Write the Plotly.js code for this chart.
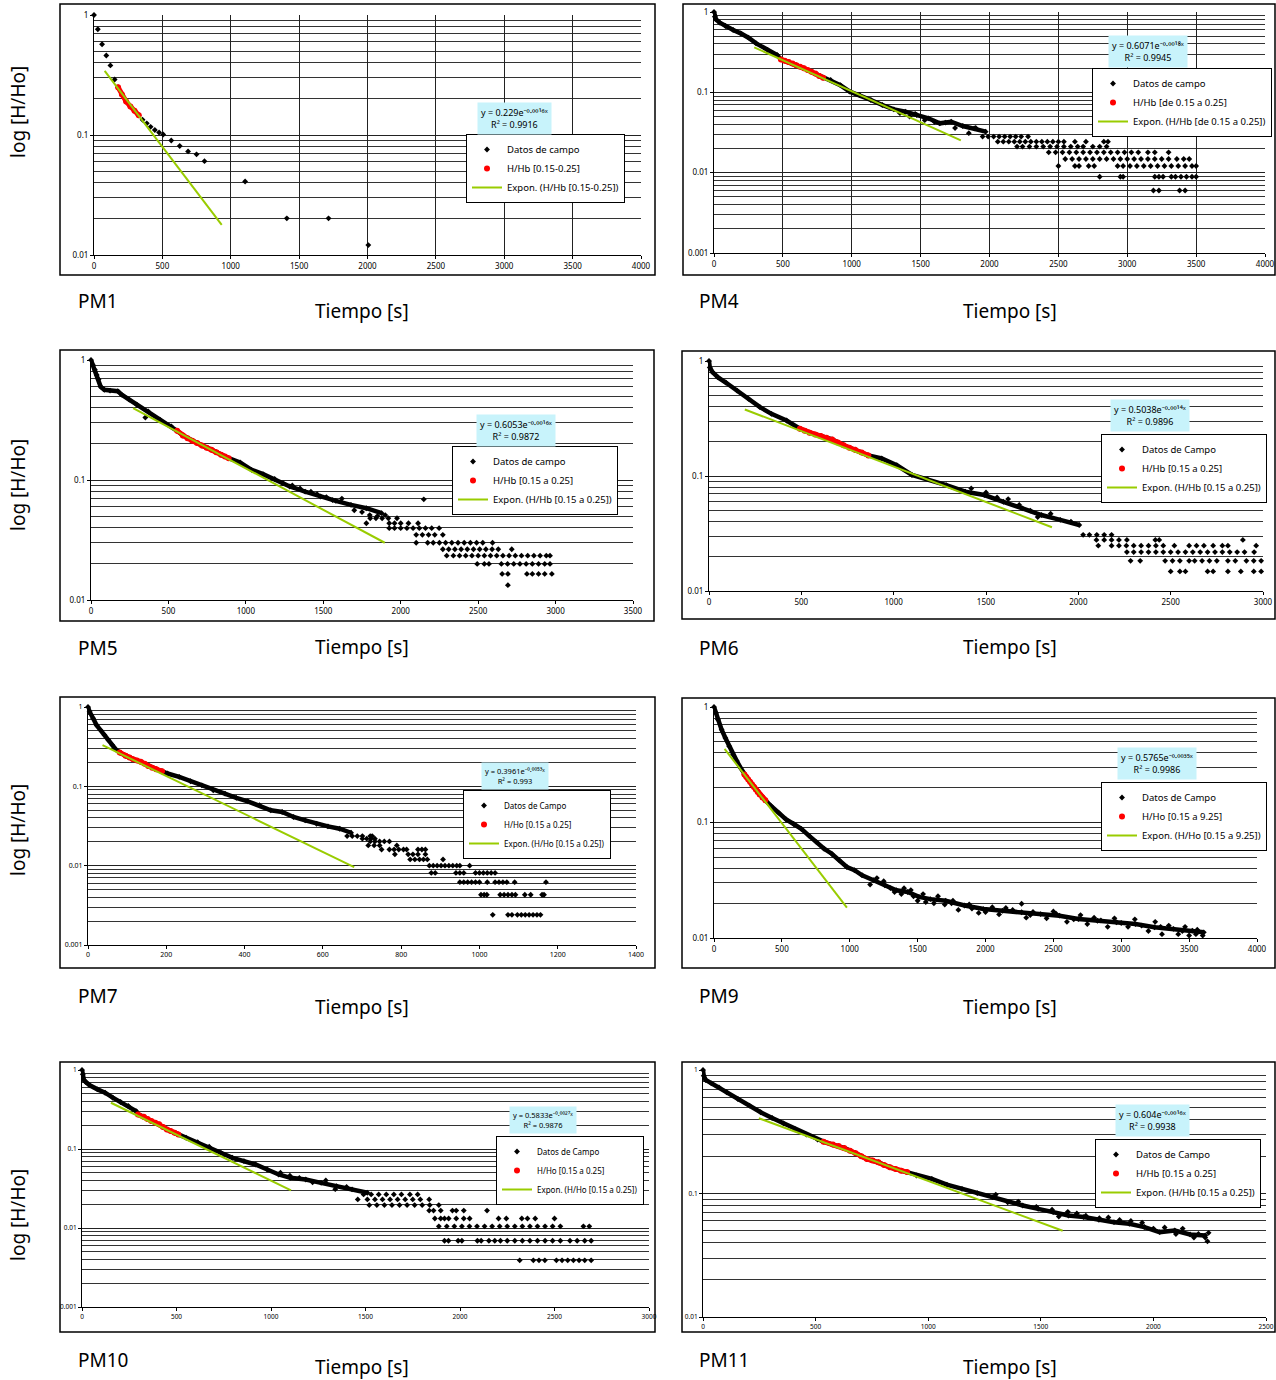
<!DOCTYPE html>
<html><head><meta charset="utf-8">
<script src="https://cdn.plot.ly/plotly-3.0.1.min.js"></script>
<style>body{margin:0;background:#fff}#chart{width:1276px;height:1380px}</style>
</head><body><div id="chart"></div>
<script>
// ---------------- DATA ----------------
// PM1
const pm1_t = [0, 28, 59, 90, 120, 151, 176, 204, 235, 266, 296, 327, 355, 386, 414, 445, 476, 506, 565, 627, 688, 750, 808, 1105, 1410, 1715, 2006];
const pm1_h = [1, 0.76, 0.57, 0.46, 0.38, 0.29, 0.25, 0.217, 0.19, 0.173, 0.159, 0.146, 0.134, 0.125, 0.117, 0.110, 0.105, 0.101, 0.090, 0.081, 0.073, 0.069, 0.0605, 0.041, 0.0202, 0.0202, 0.0121];
const pm1_tailT = [];
const pm1_tailH = [];
const pm1_redT = [176, 204, 235, 266, 296, 327];
const pm1_redH = [0.25, 0.217, 0.19, 0.173, 0.159, 0.146];
const pm1_fitT = [78, 934];
const pm1_fitH = [0.342, 0.0178];

// PM4
const pm4_t = [0, 6, 14, 42, 83, 139, 194, 250, 306, 389, 458, 486, 542, 597, 653, 708, 764, 792, 847, 917, 986, 1056, 1139, 1222, 1306, 1389, 1472, 1556, 1639, 1722, 1806, 1889, 1972];
const pm4_h = [1, 0.875, 0.81, 0.737, 0.67, 0.597, 0.542, 0.479, 0.407, 0.336, 0.292, 0.257, 0.239, 0.217, 0.199, 0.181, 0.16, 0.152, 0.1425, 0.123, 0.102, 0.0926, 0.0803, 0.0695, 0.0614, 0.0574, 0.0522, 0.0475, 0.0411, 0.0431, 0.0381, 0.0356, 0.0324];
const pm4_tailT = [1350, 1420, 1460, 1530, 1600, 1680, 1750, 1850, 1900,
  1950, 1990, 2030, 2070, 2110, 2150, 2190, 2230, 2280,
  2060, 2100, 2140, 2180, 2220, 2260, 2300, 2340, 2380, 2420, 2460, 2500, 2540, 2620, 2700, 2830, 2860,
  2200, 2240, 2290, 2340, 2390, 2440, 2490, 2540, 2590, 2640, 2680, 2750, 2800, 2850,
  2430, 2480, 2530, 2580, 2630, 2680, 2730, 2780, 2830, 2880, 2930, 2980, 3030, 3080, 3150, 3200, 3300,
  2550, 2600, 2650, 2700, 2750, 2800, 2850, 2900, 2950, 3000, 3050, 3100, 3150, 3200, 3250, 3300, 3360, 3410, 3450,
  2500, 2620, 2650, 2720, 2760, 2930, 2970, 3020, 3070, 3120, 3170, 3220, 3270, 3320, 3370, 3420, 3470, 3500,
  2800, 2950, 2970, 3200, 3230, 3260, 3320, 3350, 3390, 3430, 3470, 3500,
  3190, 3230, 3380, 3420];
const pm4_tailH = [0.055, 0.05, 0.054, 0.045, 0.043, 0.042, 0.036, 0.031, 0.036,
  0.0281, 0.0281, 0.0281, 0.0281, 0.0281, 0.0281, 0.0281, 0.0281, 0.0281,
  0.0243, 0.0243, 0.0243, 0.0243, 0.0243, 0.0243, 0.0243, 0.0243, 0.0243, 0.0243, 0.0243, 0.0243, 0.0243, 0.0243, 0.0243, 0.0243, 0.0243,
  0.0211, 0.0211, 0.0211, 0.0211, 0.0211, 0.0211, 0.0211, 0.0211, 0.0211, 0.0211, 0.0211, 0.0211, 0.0211, 0.0211,
  0.0179, 0.0179, 0.0179, 0.0179, 0.0179, 0.0179, 0.0179, 0.0179, 0.0179, 0.0179, 0.0179, 0.0179, 0.0179, 0.0179, 0.0179, 0.0179, 0.0179,
  0.0148, 0.0148, 0.0148, 0.0148, 0.0148, 0.0148, 0.0148, 0.0148, 0.0148, 0.0148, 0.0148, 0.0148, 0.0148, 0.0148, 0.0148, 0.0148, 0.0148, 0.0148, 0.0148,
  0.0121, 0.0121, 0.0121, 0.0121, 0.0121, 0.0121, 0.0121, 0.0121, 0.0121, 0.0121, 0.0121, 0.0121, 0.0121, 0.0121, 0.0121, 0.0121, 0.0121, 0.0121,
  0.0089, 0.0089, 0.0089, 0.0089, 0.0089, 0.0089, 0.0089, 0.0089, 0.0089, 0.0089, 0.0089, 0.0089,
  0.0060, 0.0060, 0.0060, 0.0060];
const pm4_redT = [486, 514, 542, 570, 597, 625, 653, 680, 708, 736, 764, 792];
const pm4_redH = [0.257, 0.248, 0.239, 0.228, 0.217, 0.208, 0.199, 0.19, 0.181, 0.171, 0.16, 0.152];
const pm4_fitT = [292, 1792];
const pm4_fitH = [0.363, 0.0252];

// PM5
const pm5_t = [0, 12, 25, 37, 49, 62, 86, 123, 173, 198, 247, 296, 370, 445, 519, 556, 593, 654, 716, 778, 840, 889, 963, 1037, 1111, 1186, 1284, 1383, 1482, 1581, 1679, 1778, 1877];
const pm5_h = [1, 0.91, 0.83, 0.75, 0.69, 0.60, 0.565, 0.555, 0.55, 0.514, 0.467, 0.424, 0.373, 0.318, 0.28, 0.257, 0.235, 0.212, 0.194, 0.179, 0.162, 0.152, 0.14, 0.1216, 0.112, 0.102, 0.0883, 0.080, 0.0728, 0.067, 0.062, 0.0582, 0.0529];
const pm5_tailT = [351, 1240, 1300, 1350, 1420, 1460, 1520, 1560, 1620, 1700, 1750, 1800, 1850, 1900, 2149,
  1803, 1840, 1880, 1920, 1976,
  1778, 1926, 1960, 2000, 2050, 2112,
  1926, 1960, 2000, 2040, 2080, 2120, 2160, 2200, 2248,
  2100, 2140, 2180, 2220, 2272,
  2100, 2174, 2210, 2250, 2290, 2330, 2370, 2410, 2450, 2490, 2530, 2593,
  2272, 2310, 2350, 2390, 2430, 2470, 2510, 2550, 2590, 2630, 2717,
  2297, 2340, 2380, 2420, 2460, 2500, 2540, 2580, 2620, 2660, 2700, 2740, 2780, 2820, 2860, 2900, 2940, 2964,
  2494, 2540, 2570, 2650, 2690, 2730, 2770, 2810, 2850, 2890, 2930, 2964,
  2655, 2692, 2815, 2850, 2890, 2930, 2976,
  2692];
const pm5_tailH = [0.332, 0.094, 0.09, 0.085, 0.08, 0.076, 0.072, 0.068, 0.07, 0.056, 0.054, 0.051, 0.05, 0.051, 0.069,
  0.048, 0.048, 0.048, 0.048, 0.048,
  0.0436, 0.0436, 0.0436, 0.0436, 0.0436, 0.0436,
  0.0397, 0.0397, 0.0397, 0.0397, 0.0397, 0.0397, 0.0397, 0.0397, 0.0397,
  0.0349, 0.0349, 0.0349, 0.0349, 0.0349,
  0.030, 0.030, 0.030, 0.030, 0.030, 0.030, 0.030, 0.030, 0.030, 0.030, 0.030, 0.030,
  0.0265, 0.0265, 0.0265, 0.0265, 0.0265, 0.0265, 0.0265, 0.0265, 0.0265, 0.0265, 0.0265,
  0.0234, 0.0234, 0.0234, 0.0234, 0.0234, 0.0234, 0.0234, 0.0234, 0.0234, 0.0234, 0.0234, 0.0234, 0.0234, 0.0234, 0.0234, 0.0234, 0.0234, 0.0234,
  0.020, 0.020, 0.020, 0.020, 0.020, 0.020, 0.020, 0.020, 0.020, 0.020, 0.020, 0.020,
  0.0165, 0.0165, 0.0165, 0.0165, 0.0165, 0.0165, 0.0165,
  0.0133];
const pm5_redT = [556, 593, 623, 654, 685, 716, 747, 778, 809, 840, 865, 889];
const pm5_redH = [0.257, 0.235, 0.223, 0.212, 0.203, 0.194, 0.186, 0.179, 0.17, 0.162, 0.157, 0.152];
const pm5_fitT = [272, 1897];
const pm5_fitH = [0.398, 0.030];

// PM6
const pm6_t = [0, 4, 19, 49, 91, 152, 214, 276, 338, 420, 492, 544, 605, 667, 729, 791, 863, 935, 1017, 1099, 1182, 1285, 1388, 1491, 1594, 1697, 1800, 1902, 2005];
const pm6_h = [1, 0.88, 0.80, 0.72, 0.65, 0.553, 0.469, 0.397, 0.347, 0.304, 0.258, 0.238, 0.223, 0.208, 0.185, 0.169, 0.151, 0.142, 0.124, 0.102, 0.094, 0.0834, 0.073, 0.0683, 0.0597, 0.0523, 0.0458, 0.0415, 0.0375];
const pm6_tailT = [1420, 1500, 1560, 1620, 1680, 1740, 1780, 1850, 1960,
  2026, 2060, 2100, 2140, 2180,
  2098, 2140, 2180, 2220, 2263, 2417, 2438, 2891,
  2108, 2180, 2220, 2260, 2300, 2340, 2380, 2420, 2460, 2520, 2600, 2640, 2680, 2730, 2780, 2810, 2963,
  2263, 2300, 2340, 2380, 2420, 2460, 2500, 2540, 2580, 2620, 2660, 2700, 2740, 2780, 2820, 2860, 2900, 2952,
  2283, 2335, 2470, 2510, 2550, 2600, 2630, 2670, 2710, 2750, 2810, 2850, 2910, 2950, 2990,
  2500, 2550, 2580, 2700, 2730, 2810, 2880, 2950, 2990];
const pm6_tailH = [0.078, 0.072, 0.065, 0.063, 0.056, 0.05, 0.044, 0.047, 0.04,
  0.0308, 0.0308, 0.0308, 0.0308, 0.0308,
  0.0278, 0.0278, 0.0278, 0.0278, 0.0278, 0.0278, 0.0278, 0.0278,
  0.0248, 0.0248, 0.0248, 0.0248, 0.0248, 0.0248, 0.0248, 0.0248, 0.0248, 0.0248, 0.0248, 0.0248, 0.0248, 0.0248, 0.0248, 0.0248, 0.0248,
  0.0218, 0.0218, 0.0218, 0.0218, 0.0218, 0.0218, 0.0218, 0.0218, 0.0218, 0.0218, 0.0218, 0.0218, 0.0218, 0.0218, 0.0218, 0.0218, 0.0218, 0.0218,
  0.0183, 0.0183, 0.0183, 0.0183, 0.0183, 0.0183, 0.0183, 0.0183, 0.0183, 0.0183, 0.0183, 0.0183, 0.0183, 0.0183, 0.0183,
  0.0148, 0.0148, 0.0148, 0.0148, 0.0148, 0.0148, 0.0148, 0.0148, 0.0148];
const pm6_redT = [492, 518, 544, 575, 605, 636, 667, 698, 729, 760, 791, 827, 863];
const pm6_redH = [0.258, 0.247, 0.238, 0.23, 0.223, 0.215, 0.208, 0.196, 0.185, 0.176, 0.169, 0.16, 0.151];
const pm6_fitT = [194, 1857];
const pm6_fitH = [0.379, 0.0358];

// PM7
const pm7_t = [0, 4, 13, 22, 32, 42, 52, 62, 71, 81, 96, 115, 135, 154, 174, 189, 203, 233, 262, 291, 320, 350, 379, 408, 438, 467, 496, 525, 555, 584, 613, 643, 672];
const pm7_h = [1, 0.873, 0.72, 0.59, 0.512, 0.443, 0.383, 0.331, 0.292, 0.267, 0.2425, 0.22, 0.204, 0.181, 0.164, 0.155, 0.145, 0.1315, 0.116, 0.103, 0.0893, 0.081, 0.0715, 0.0648, 0.0577, 0.0499, 0.0475, 0.0411, 0.0373, 0.0338, 0.0313, 0.0292, 0.026];
const pm7_tailT = [662, 675, 688, 701, 721, 726,
  701, 712, 723, 733,
  721, 733, 745, 757, 770,
  716, 731, 745, 789,
  750, 770, 782, 794, 806, 814, 843, 853, 862,
  784, 818, 830, 843, 862,
  823, 835, 847, 857, 867, 907,
  872, 882, 892, 902, 912, 922, 932, 942, 950, 975,
  877, 887, 940, 950, 960, 990, 1000, 1010, 1020, 1030, 1040,
  950, 960, 970, 980, 990, 1000, 1020, 1040, 1050, 1060, 1070, 1090, 1170,
  1004, 1012, 1019, 1053, 1063, 1073, 1083, 1092, 1116, 1131, 1160, 1165,
  1034, 1073, 1083, 1097, 1107, 1117, 1127, 1137, 1147, 1156];
const pm7_tailH = [0.0236, 0.0236, 0.0236, 0.0236, 0.0236, 0.0236,
  0.0219, 0.0219, 0.0219, 0.0219,
  0.0202, 0.0202, 0.0202, 0.0202, 0.0202,
  0.018, 0.018, 0.018, 0.018,
  0.016, 0.016, 0.016, 0.016, 0.016, 0.016, 0.016, 0.016, 0.016,
  0.0139, 0.0139, 0.0139, 0.0139, 0.0139,
  0.012, 0.012, 0.012, 0.012, 0.012, 0.012,
  0.010, 0.010, 0.010, 0.010, 0.010, 0.010, 0.010, 0.010, 0.010, 0.010,
  0.0081, 0.0081, 0.0081, 0.0081, 0.0081, 0.0081, 0.0081, 0.0081, 0.0081, 0.0081, 0.0081,
  0.0062, 0.0062, 0.0062, 0.0062, 0.0062, 0.0062, 0.0062, 0.0062, 0.0062, 0.0062, 0.0062, 0.0062, 0.0062,
  0.0043, 0.0043, 0.0043, 0.0043, 0.0043, 0.0043, 0.0043, 0.0043, 0.0043, 0.0043, 0.0043, 0.0043,
  0.0024, 0.0024, 0.0024, 0.0024, 0.0024, 0.0024, 0.0024, 0.0024, 0.0024, 0.0024];
const pm7_redT = [81, 96, 106, 115, 125, 135, 145, 154, 164, 174, 189];
const pm7_redH = [0.267, 0.2425, 0.231, 0.22, 0.212, 0.204, 0.192, 0.181, 0.172, 0.164, 0.155];
const pm7_fitT = [37, 680];
const pm7_fitH = [0.331, 0.0096];

// PM9
const pm9_t = [0, 14, 28, 56, 84, 112, 140, 168, 196, 224, 252, 280, 308, 336, 378, 420, 476, 531, 587, 643, 699, 755, 811, 867, 923, 979, 1035, 1091, 1175, 1259, 1343, 1427, 1510, 1594, 1706, 1846, 1986, 2126, 2266, 2406, 2545, 2685, 2825, 2965, 3105, 3245, 3385, 3524, 3608];
const pm9_h = [1, 0.887, 0.778, 0.637, 0.54, 0.457, 0.388, 0.34, 0.297, 0.26, 0.236, 0.213, 0.193, 0.175, 0.156, 0.139, 0.1216, 0.1065, 0.097, 0.088, 0.077, 0.0677, 0.0593, 0.0537, 0.047, 0.0412, 0.0386, 0.0349, 0.0316, 0.0286, 0.0259, 0.025, 0.0227, 0.0217, 0.021, 0.0191, 0.0178, 0.0172, 0.0167, 0.0161, 0.0156, 0.0146, 0.0141, 0.0137, 0.0132, 0.0124, 0.012, 0.0116, 0.0112];
const pm9_tailT = [1150, 1200, 1300, 1380, 1450, 1500, 1560, 1650, 1700, 1750, 1800, 1900, 1950, 2050, 2100, 2200, 2266, 2300, 2350, 2450, 2500, 2600, 2700, 2750, 2800, 2900, 2950, 3050, 3100, 3200, 3250, 3300, 3350, 3420, 3470, 3500, 3560, 3600,
  1250, 1330, 1400, 1470, 1540, 1620, 1760, 1880, 2000, 2150, 2330, 2520, 2650, 2850, 3000, 3150, 3290, 3450, 3550];
const pm9_tailH = [0.029, 0.033, 0.027, 0.024, 0.026, 0.021, 0.0205, 0.023, 0.0195, 0.02, 0.0175, 0.018, 0.0165, 0.0185, 0.016, 0.0175, 0.0198, 0.015, 0.0168, 0.0148, 0.017, 0.0138, 0.0158, 0.0132, 0.015, 0.0125, 0.0148, 0.0125, 0.0145, 0.0115, 0.0138, 0.0108, 0.0128, 0.0108, 0.0125, 0.0105, 0.0118, 0.0105,
  0.031, 0.025, 0.027, 0.023, 0.024, 0.02, 0.021, 0.0195, 0.0168, 0.0182, 0.0158, 0.0162, 0.0145, 0.0142, 0.0135, 0.0128, 0.0125, 0.0115, 0.0108];
const pm9_redT = [224, 238, 252, 266, 280, 294, 308, 322, 336, 357, 378];
const pm9_redH = [0.26, 0.248, 0.236, 0.224, 0.213, 0.203, 0.193, 0.184, 0.175, 0.165, 0.156];
const pm9_fitT = [78, 979];
const pm9_fitH = [0.434, 0.0183];

// PM10
const pm10_t = [0, 4, 10, 20, 41, 82, 122, 163, 204, 245, 286, 296, 327, 367, 408, 449, 490, 510, 551, 612, 673, 735, 796, 857, 918, 980, 1041, 1102, 1184, 1265, 1347, 1429, 1510];
const pm10_h = [1, 0.881, 0.747, 0.705, 0.64, 0.569, 0.516, 0.446, 0.393, 0.35, 0.302, 0.274, 0.256, 0.226, 0.205, 0.177, 0.161, 0.153, 0.139, 0.122, 0.1067, 0.0895, 0.0774, 0.0703, 0.0637, 0.0551, 0.0476, 0.0432, 0.0411, 0.0373, 0.0339, 0.0308, 0.0279];
const pm10_tailT = [1050, 1100, 1150, 1220, 1290, 1340, 1400,
  1490, 1530, 1570, 1610, 1650, 1690, 1735, 1776,
  1459, 1510, 1550, 1590, 1630, 1670, 1710, 1750, 1790, 1837,
  1520, 1560, 1600, 1640, 1680, 1720, 1760, 1800, 1840, 1888,
  1837, 1860, 1898, 1960, 1980, 2020, 2143,
  1867, 1898, 1918, 1940, 1980, 2020, 2051, 2204, 2245, 2327, 2357, 2398, 2500,
  1888, 1930, 1970, 2010, 2050, 2090, 2130, 2170, 2210, 2250, 2290, 2330, 2370, 2410, 2450, 2490, 2531, 2653, 2684,
  1918, 1939, 1990, 2010, 2092, 2112, 2153, 2184, 2214, 2250, 2290, 2330, 2370, 2410, 2450, 2490, 2531, 2582, 2620, 2660, 2694,
  2316, 2388, 2418, 2449, 2510, 2540, 2570, 2600, 2630, 2660, 2694];
const pm10_tailH = [0.05, 0.046, 0.043, 0.038, 0.04, 0.031, 0.033,
  0.0266, 0.0266, 0.0266, 0.0266, 0.0266, 0.0266, 0.0266, 0.0266,
  0.023, 0.023, 0.023, 0.023, 0.023, 0.023, 0.023, 0.023, 0.023, 0.023,
  0.0195, 0.0195, 0.0195, 0.0195, 0.0195, 0.0195, 0.0195, 0.0195, 0.0195, 0.0195,
  0.0166, 0.0166, 0.0166, 0.0166, 0.0166, 0.0166, 0.0166,
  0.0132, 0.0132, 0.0132, 0.0132, 0.0132, 0.0132, 0.0132, 0.0132, 0.0132, 0.0132, 0.0132, 0.0132, 0.0132,
  0.0105, 0.0105, 0.0105, 0.0105, 0.0105, 0.0105, 0.0105, 0.0105, 0.0105, 0.0105, 0.0105, 0.0105, 0.0105, 0.0105, 0.0105, 0.0105, 0.0105, 0.0105, 0.0105,
  0.0069, 0.0069, 0.0069, 0.0069, 0.0069, 0.0069, 0.0069, 0.0069, 0.0069, 0.0069, 0.0069, 0.0069, 0.0069, 0.0069, 0.0069, 0.0069, 0.0069, 0.0069, 0.0069, 0.0069, 0.0069,
  0.0039, 0.0039, 0.0039, 0.0039, 0.0039, 0.0039, 0.0039, 0.0039, 0.0039, 0.0039, 0.0039];
const pm10_redT = [296, 327, 347, 367, 388, 408, 429, 449, 469, 490, 510];
const pm10_redH = [0.274, 0.256, 0.24, 0.226, 0.215, 0.205, 0.19, 0.177, 0.169, 0.161, 0.153];
const pm10_fitT = [153, 1106];
const pm10_fitH = [0.385, 0.0299];

// PM11
const pm11_t = [0, 3, 12, 37, 71, 105, 155, 206, 256, 307, 357, 408, 459, 509, 535, 577, 627, 678, 728, 779, 830, 880, 906, 948, 1016, 1083, 1150, 1218, 1285, 1353, 1420, 1488, 1555, 1623, 1690, 1758, 1825, 1893, 1960, 2028, 2095, 2163, 2230];
const pm11_h = [1, 0.90, 0.83, 0.78, 0.724, 0.66, 0.582, 0.515, 0.455, 0.409, 0.37, 0.333, 0.30, 0.273, 0.263, 0.249, 0.234, 0.212, 0.19, 0.179, 0.163, 0.153, 0.149, 0.14, 0.1315, 0.118, 0.109, 0.1007, 0.0934, 0.085, 0.080, 0.0751, 0.0706, 0.0664, 0.0644, 0.0613, 0.0586, 0.0569, 0.0535, 0.0487, 0.0502, 0.0466, 0.0457];
const pm11_tailT = [1550, 1580, 1620, 1700, 1800, 1850, 1900, 1950, 2000, 2050, 2100, 2130, 2180, 2200, 2230, 2245, 2240, 1300, 1400, 1480, 1660, 1760];
const pm11_tailH = [0.074, 0.065, 0.071, 0.066, 0.064, 0.061, 0.06, 0.058, 0.052, 0.053, 0.047, 0.052, 0.044, 0.047, 0.044, 0.048, 0.041, 0.098, 0.086, 0.078, 0.069, 0.063];
const pm11_redT = [535, 577, 602, 627, 653, 678, 703, 728, 753, 779, 804, 830, 855, 880, 906];
const pm11_redH = [0.263, 0.249, 0.242, 0.234, 0.222, 0.212, 0.2, 0.19, 0.185, 0.179, 0.17, 0.163, 0.158, 0.153, 0.149];
const pm11_fitT = [248, 1597];
const pm11_fitH = [0.407, 0.0499];

// Labels
const panelNames = ['PM1', 'PM4', 'PM5', 'PM6', 'PM7', 'PM9', 'PM10', 'PM11'];
const legendData = ['Datos de campo', 'Datos de campo', 'Datos de campo', 'Datos de Campo', 'Datos de Campo', 'Datos de Campo', 'Datos de Campo', 'Datos de Campo'];
const legendRange = ['H/Hb [0.15-0.25]', 'H/Hb [de 0.15 a 0.25]', 'H/Hb [0.15 a 0.25]', 'H/Hb [0.15 a 0.25]', 'H/Ho [0.15 a 0.25]', 'H/Ho [0.15 a 9.25]', 'H/Ho [0.15 a 0.25]', 'H/Hb [0.15 a 0.25]'];
const eqA = ['0.229', '0.6071', '0.6053', '0.5038', '0.3961', '0.5765', '0.5833', '0.604'];
const eqB = ['-0.0016x', '-0.0018x', '-0.0016x', '-0.0014x', '-0.0053x', '-0.0035x', '-0.0027x', '-0.0016x'];
const eqR2 = ['0.9916', '0.9945', '0.9872', '0.9896', '0.993', '0.9986', '0.9876', '0.9938'];
const xLabel = 'Tiempo [s]';
const yLabel = 'log [H/Ho]';

// ---------------- LAYOUT GEOMETRY (pixels) ----------------
const W = 1276, H = 1380;
const geom = [
  {box:[60,4,655,275],   plot:[94,641,15,255],    xr:[0,4000], dx:500, yr:[-2,0], vgrid:true,  leg:[466,134],  eq:[514,119],  lab:[76,301],   tl:[362,311],  fs:8, lf:9.5},
  {box:[683,4,1275,275], plot:[714,1265,12,253],  xr:[0,4000], dx:500, yr:[-3,0], vgrid:true,  leg:[1092,68],  eq:[1148,51],  lab:[697,301],  tl:[1010,311], fs:8, lf:9.5},
  {box:[60,350,654,621], plot:[91,633,360,600],   xr:[0,3500], dx:500, yr:[-2,0], vgrid:false, leg:[452,446],  eq:[516,430],  lab:[76,648],   tl:[362,647],  fs:8, lf:9.5},
  {box:[682,351,1275,619],plot:[709,1263,361,591],xr:[0,3000], dx:500, yr:[-2,0], vgrid:false, leg:[1101,434], eq:[1150,415], lab:[697,648],  tl:[1010,647], fs:8, lf:9.5},
  {box:[60,697,655,968], plot:[88,636,707,945],   xr:[0,1400], dx:200, yr:[-3,0], vgrid:false, leg:[463,790],  eq:[515,776],  lab:[76,996],   tl:[362,1007], fs:7, lf:8},
  {box:[682,698,1275,968],plot:[714,1257,707,938],xr:[0,4000], dx:500, yr:[-2,0], vgrid:false, leg:[1101,782], eq:[1157,763], lab:[697,996],  tl:[1010,1007],fs:8, lf:9.5},
  {box:[60,1062,655,1332],plot:[82,649,1070,1307],xr:[0,3000], dx:500, yr:[-3,0], vgrid:false, leg:[496,1136], eq:[543,1120], lab:[76,1360],  tl:[362,1367], fs:6.5, lf:8},
  {box:[682,1062,1275,1332],plot:[703,1266,1070,1317],xr:[0,2500],dx:500,yr:[-2,0],vgrid:false, leg:[1095,1139],eq:[1152,1120],lab:[697,1360], tl:[1010,1367],fs:6.5, lf:9.5}
];
const yLabelPos = [112, 485, 830, 1215];

const series = [
  [pm1_t, pm1_h, pm1_tailT, pm1_tailH, pm1_redT, pm1_redH, pm1_fitT, pm1_fitH, false],
  [pm4_t, pm4_h, pm4_tailT, pm4_tailH, pm4_redT, pm4_redH, pm4_fitT, pm4_fitH, true],
  [pm5_t, pm5_h, pm5_tailT, pm5_tailH, pm5_redT, pm5_redH, pm5_fitT, pm5_fitH, true],
  [pm6_t, pm6_h, pm6_tailT, pm6_tailH, pm6_redT, pm6_redH, pm6_fitT, pm6_fitH, true],
  [pm7_t, pm7_h, pm7_tailT, pm7_tailH, pm7_redT, pm7_redH, pm7_fitT, pm7_fitH, true],
  [pm9_t, pm9_h, pm9_tailT, pm9_tailH, pm9_redT, pm9_redH, pm9_fitT, pm9_fitH, true],
  [pm10_t, pm10_h, pm10_tailT, pm10_tailH, pm10_redT, pm10_redH, pm10_fitT, pm10_fitH, true],
  [pm11_t, pm11_h, pm11_tailT, pm11_tailH, pm11_redT, pm11_redH, pm11_fitT, pm11_fitH, true]
];

const FONT = 'Noto Sans, Open Sans, sans-serif';
const px = v => v / W;
const py = v => 1 - v / H;

// exponent written with Unicode superscript characters
const SUP = {'0':'⁰','1':'¹','2':'²','3':'³','4':'⁴','5':'⁵','6':'⁶','7':'⁷','8':'⁸','9':'⁹','-':'⁻','x':'ˣ','.':'·'};
const toSup = s => s.split('').map(c => SUP[c] || c).join('');

const minorVals = [];
[0.001, 0.01, 0.1].forEach(d => { for (let k = 2; k <= 9; k++) minorVals.push(+(d * k).toPrecision(3)); });

const data = [];
const layout = {
  width: W, height: H, margin: {l:0, r:0, t:0, b:0},
  paper_bgcolor: '#fff', plot_bgcolor: '#fff',
  font: {family: FONT, color: '#000'},
  showlegend: true,
  shapes: [], annotations: []
};

geom.forEach((g, i) => {
  const n = i === 0 ? '' : String(i + 1);
  const xa = 'x' + n, ya = 'y' + n, lg = 'legend' + n;
  const [ct, ch, tt, th, rt, rh, ft, fh, dense] = series[i];
  if (dense) {
    data.push({type:'scatter', mode:'lines', x:ct, y:ch, xaxis:xa, yaxis:ya, legend:lg, showlegend:false,
      line:{color:'#000', width:4.5}, hoverinfo:'skip', cliponaxis:false});
  }
  data.push({type:'scatter', mode:'markers', name:legendData[i], x:ct.concat(tt), y:ch.concat(th), xaxis:xa, yaxis:ya, legend:lg,
    marker:{symbol:'diamond', size:4.5, color:'#000'}, cliponaxis:false});
  data.push({type:'scatter', mode:'lines', x:rt, y:rh, xaxis:xa, yaxis:ya, legend:lg, showlegend:false,
    line:{color:'#ff0000', width:5}, hoverinfo:'skip'});
  data.push({type:'scatter', mode:'markers', name:legendRange[i], x:rt, y:rh, xaxis:xa, yaxis:ya, legend:lg,
    marker:{symbol:'circle', size:6, color:'#ff0000'}});
  data.push({type:'scatter', mode:'lines', name:'Expon. (' + legendRange[i] + ')', x:ft, y:fh, xaxis:xa, yaxis:ya, legend:lg,
    line:{color:'#99cc00', width:2}});

  const [l, r, t, b] = g.plot;
  layout['xaxis' + n] = {
    domain:[px(l), px(r)], anchor:ya, range:g.xr, dtick:g.dx, tick0:0,
    showgrid:g.vgrid, gridcolor:'#222', gridwidth:1, zeroline:false,
    showline:true, linecolor:'#000', linewidth:1, ticks:'outside', ticklen:3, tickcolor:'#000',
    tickfont:{size:g.fs, family:FONT, color:'#000'}, fixedrange:true
  };
  const yt = [0.001, 0.01, 0.1, 1].filter(v => Math.log10(v) >= g.yr[0] - 1e-9);
  layout['yaxis' + n] = {
    domain:[py(b), py(t)], anchor:xa, type:'log', range:g.yr,
    tickmode:'array', tickvals:yt, ticktext:yt.map(v => String(v)),
    showgrid:true, gridcolor:'#222', gridwidth:1, zeroline:false,
    showline:true, linecolor:'#000', linewidth:1, ticks:'outside', ticklen:3, tickcolor:'#000',
    tickfont:{size:g.fs, family:FONT, color:'#000'},
    minor:{tickmode:'array', tickvals:minorVals.filter(v => Math.log10(v) > g.yr[0]), showgrid:true, gridcolor:'#333', gridwidth:1, ticks:''},
    fixedrange:true
  };
  layout[lg] = {
    x:px(g.leg[0]), y:py(g.leg[1]), xanchor:'left', yanchor:'top', xref:'paper', yref:'paper',
    bgcolor:'#fff', bordercolor:'#000', borderwidth:1,
    font:{size:g.lf, family:FONT, color:'#000'}, tracegroupgap:0, itemwidth:30
  };
  layout.shapes.push({type:'rect', xref:'paper', yref:'paper', x0:px(g.box[0]), x1:px(g.box[2]), y0:py(g.box[3]), y1:py(g.box[1]),
    line:{color:'#000', width:1.5}, layer:'below'});
  layout.annotations.push({xref:'paper', yref:'paper', x:px(g.eq[0]), y:py(g.eq[1]), xanchor:'center', yanchor:'middle',
    text:'y = ' + eqA[i] + 'e' + toSup(eqB[i]) + '<br>R² = ' + eqR2[i], showarrow:false, align:'center',
    bgcolor:'#c8f3fb', borderpad:3, font:{size:g.lf - 0.5, family:FONT, color:'#000'}});
  layout.annotations.push({xref:'paper', yref:'paper', x:px(g.lab[0]), y:py(g.lab[1]), xanchor:'left', yanchor:'middle',
    text:panelNames[i], showarrow:false, font:{size:19, family:FONT, color:'#000'}});
  layout.annotations.push({xref:'paper', yref:'paper', x:px(g.tl[0]), y:py(g.tl[1]), xanchor:'center', yanchor:'middle',
    text:xLabel, showarrow:false, font:{size:19, family:FONT, color:'#000'}});
});
yLabelPos.forEach(yc => {
  layout.annotations.push({xref:'paper', yref:'paper', x:px(18), y:py(yc), xanchor:'center', yanchor:'middle',
    text:yLabel, textangle:-90, showarrow:false, font:{size:19, family:FONT, color:'#000'}});
});

Plotly.newPlot('chart', data, layout, {staticPlot:true, displayModeBar:false});
</script>
</body></html>
